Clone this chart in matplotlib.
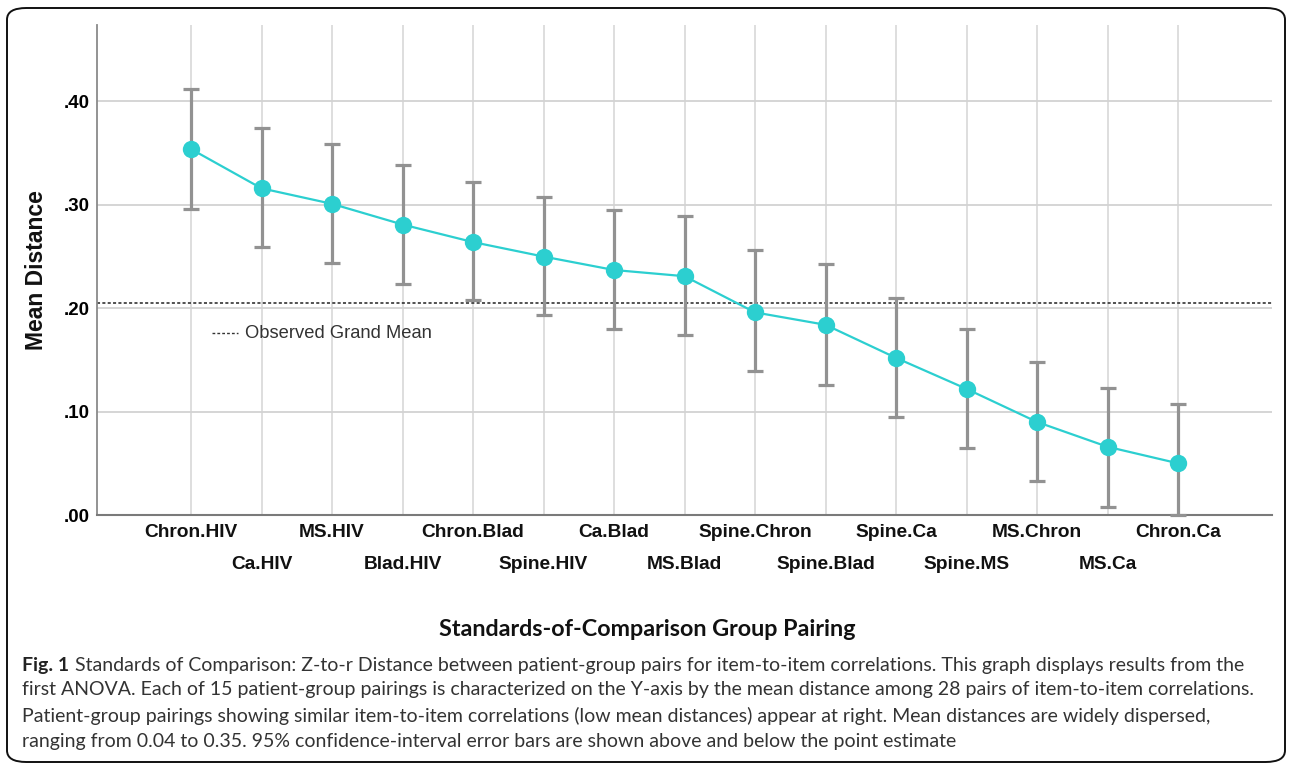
import matplotlib.pyplot as plt
from matplotlib.patches import FancyBboxPatch
from matplotlib.lines import Line2D

pairings = ["Chron.HIV", "Ca.HIV", "MS.HIV", "Blad.HIV", "Chron.Blad", "Spine.HIV",
            "Ca.Blad", "MS.Blad", "Spine.Chron", "Spine.Blad", "Spine.Ca", "Spine.MS",
            "MS.Chron", "MS.Ca", "Chron.Ca"]
mean_dist = [0.354, 0.316, 0.301, 0.281, 0.264, 0.250, 0.237, 0.231,
             0.196, 0.184, 0.152, 0.122, 0.090, 0.066, 0.050]
ci_low = [0.296, 0.259, 0.244, 0.223, 0.208, 0.193, 0.180, 0.174,
          0.139, 0.126, 0.095, 0.065, 0.033, 0.008, 0.000]
ci_high = [0.412, 0.374, 0.359, 0.339, 0.322, 0.308, 0.295, 0.289,
           0.256, 0.243, 0.210, 0.180, 0.148, 0.123, 0.107]
grand_mean = 0.205
yticks = [0.0, 0.1, 0.2, 0.3, 0.4]
ytick_labels = [".00", ".10", ".20", ".30", ".40"]

caption_bold = "Fig. 1"
caption_lines = [
    "Standards of Comparison: Z-to-r Distance between patient-group pairs for item-to-item correlations. This graph displays results from the",
    "first ANOVA. Each of 15 patient-group pairings is characterized on the Y-axis by the mean distance among 28 pairs of item-to-item correlations.",
    "Patient-group pairings showing similar item-to-item correlations (low mean distances) appear at right. Mean distances are widely dispersed,",
    "ranging from 0.04 to 0.35. 95% confidence-interval error bars are shown above and below the point estimate",
]

W, H = 1292, 768
fig = plt.figure(figsize=(W / 100, H / 100), dpi=100)
ax = fig.add_axes([97 / W, 1 - 515 / H, (1272 - 97) / W, (515 - 25) / H])

x = list(range(len(pairings)))
err_lo = [m - l for m, l in zip(mean_dist, ci_low)]
err_hi = [h - m for m, h in zip(mean_dist, ci_high)]

eb = ax.errorbar(x, mean_dist, yerr=[err_lo, err_hi], fmt="none", ecolor="#929292",
                 elinewidth=2.3, capsize=6, capthick=2.3, zorder=3)
for art in eb.lines[1] + eb.lines[2]:
    art.set_clip_on(False)
ax.plot(x, mean_dist, color="#2ccfd0", lw=1.6, marker="o", ms=12.5,
        markeredgewidth=0, zorder=4)
ax.axhline(grand_mean, color="#222222", lw=1.1, ls=(0, (2, 1.5)), zorder=2)

ax.set_xlim(-4 / 3, 14 + 4 / 3)
ax.set_ylim(0, 0.474)
ax.set_yticks(yticks)
ax.set_yticklabels(ytick_labels, fontfamily="Liberation Sans", fontweight="bold", fontsize=13.5)
ax.set_xticks(x)
ax.set_xticklabels([])
ax.tick_params(length=0, pad=5)
ax.grid(axis="y", color="#d2d2d2", lw=1.3, zorder=0)
ax.grid(axis="x", color="#d8d8d8", lw=1.2, zorder=0)
for s in ["top", "right"]:
    ax.spines[s].set_visible(False)
ax.spines["left"].set_color("#8a8a8a")
ax.spines["left"].set_linewidth(1.3)
ax.spines["bottom"].set_color("#7a7a7a")
ax.spines["bottom"].set_linewidth(1.5)

for i, name in enumerate(pairings):
    off = -12.5 if i % 2 == 0 else -35.5
    ax.annotate(name, xy=(i, 0), xycoords=("data", "axes fraction"), xytext=(0, off),
                textcoords="offset points", ha="center", va="center",
                fontfamily="Liberation Sans", fontweight="bold", fontsize=13.8, color="#111111")

fig.text(37 / W, 1 - 270 / H, "Mean Distance", rotation=90, ha="center", va="center",
         fontfamily="Liberation Sans", fontweight="bold", fontsize=16.5, color="#111111")

# observed grand mean key
fig.add_artist(Line2D([212 / W, 238 / W], [1 - 333 / H] * 2, color="#333333", lw=1.0,
                      ls=(0, (2, 1.5))))
fig.text(245 / W, 1 - 333 / H, "Observed Grand Mean", ha="left", va="center",
         fontfamily="Liberation Sans", fontsize=13.2, color="#333333")

fig.text(647 / W, 1 - 630 / H, "Standards-of-Comparison Group Pairing", ha="center",
         va="center", fontfamily="Lato", fontweight="bold", fontsize=16.8, color="#111111")

# caption
ov = fig.add_axes([0, 0, 1, 1])
ov.set_axis_off()
ov.set_xlim(0, W)
ov.set_ylim(H, 0)
line_y = [665, 690, 716, 742]
tb = ov.text(22, line_y[0], caption_bold, ha="left", va="center", fontfamily="Lato",
             fontweight="bold", fontsize=14, color="#222222")
ov.annotate(caption_lines[0], xy=(1, 0.5), xycoords=tb, xytext=(4, 0),
            textcoords="offset points", ha="left", va="center", fontfamily="Lato",
            fontsize=14, color="#333333")
for yy, line in zip(line_y[1:], caption_lines[1:]):
    ov.text(22, yy, line, ha="left", va="center", fontfamily="Lato", fontsize=14,
            color="#333333")

fig.add_artist(FancyBboxPatch((7 / W, 6 / H), (1285 - 7) / W, (761 - 7) / H,
                              boxstyle="round,pad=0,rounding_size=0.015",
                              transform=fig.transFigure, fill=False, ec="#111111", lw=1.4))

fig.savefig("out.png", dpi=100)
